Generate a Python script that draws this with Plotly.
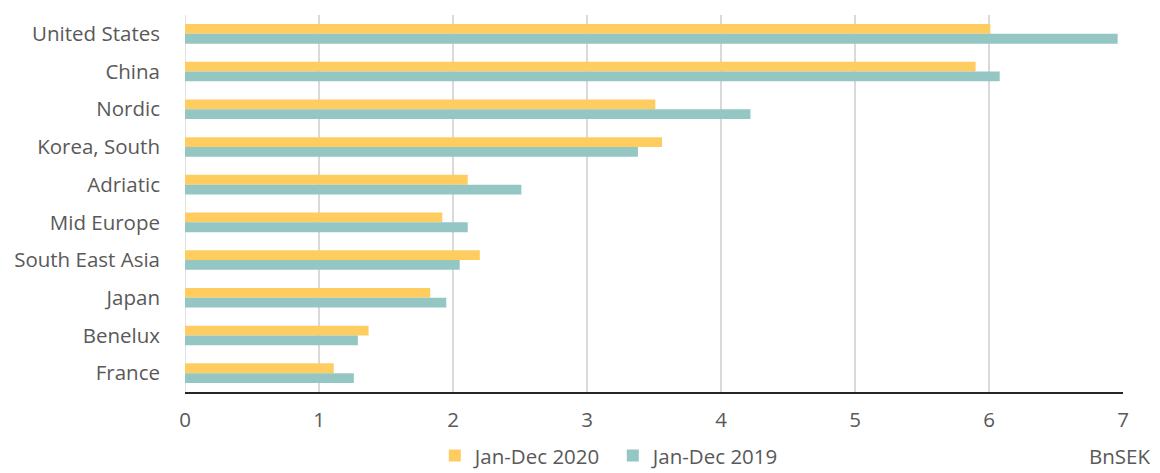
import plotly.graph_objects as go

categories = ["United States", "China", "Nordic", "Korea, South", "Adriatic",
              "Mid Europe", "South East Asia", "Japan", "Benelux", "France"]
values_2020 = [6.01, 5.90, 3.51, 3.56, 2.11, 1.92, 2.20, 1.83, 1.37, 1.11]
values_2019 = [6.96, 6.08, 4.22, 3.38, 2.51, 2.11, 2.05, 1.95, 1.29, 1.26]
x_ticks = [0, 1, 2, 3, 4, 5, 6, 7]

FONT = "Open Sans"
GRAY = "#595959"
FS = 20.5

# page body has an 8px default margin; compensate so plot lands where reference is
fig = go.Figure()
fig.add_trace(go.Bar(y=categories, x=values_2020, orientation="h",
                     name="Jan-Dec 2020", marker=dict(color="#FFCC60", line=dict(width=0))))
fig.add_trace(go.Bar(y=categories, x=values_2019, orientation="h",
                     name="Jan-Dec 2019", marker=dict(color="#94C6C3", line=dict(width=0))))

fig.update_layout(
    width=1152, height=465,
    margin=dict(l=177, r=37, t=7, b=81, autoexpand=False),
    paper_bgcolor="white", plot_bgcolor="white",
    barmode="group", bargap=0.48, bargroupgap=0,
    font=dict(family=FONT, size=FS, color=GRAY),
    showlegend=True,
    legend=dict(orientation="h", xref="container", yref="container",
                x=0.525, y=0.037, xanchor="center", yanchor="middle",
                font=dict(family=FONT, size=FS, color=GRAY), itemwidth=30,
                entrywidth=133, entrywidthmode="pixels",
                traceorder="normal", bgcolor="rgba(0,0,0,0)"),
    xaxis=dict(range=[0, 7], tickvals=x_ticks, showgrid=True, gridcolor="#D9D9D9",
               gridwidth=1.5, zeroline=False, showline=True, linecolor="#262626",
               linewidth=1.5, ticks="", ticklabelstandoff=9,
               tickfont=dict(family=FONT, size=FS, color=GRAY), fixedrange=True),
    yaxis=dict(autorange="reversed", showgrid=False, zeroline=False, showline=False,
               ticks="", ticklabelstandoff=24,
               tickfont=dict(family=FONT, size=FS, color=GRAY)),
    annotations=[dict(text="BnSEK", xref="paper", yref="paper", x=1.031, y=-0.170,
                      xanchor="right", yanchor="middle", showarrow=False,
                      font=dict(family=FONT, size=FS, color=GRAY))],
)
# left gridline at x=0
fig.add_shape(type="line", xref="x", yref="paper", x0=0, x1=0, y0=0, y1=1,
              line=dict(color="#D9D9D9", width=1.5), layer="below")

fig.write_html("out.html")
